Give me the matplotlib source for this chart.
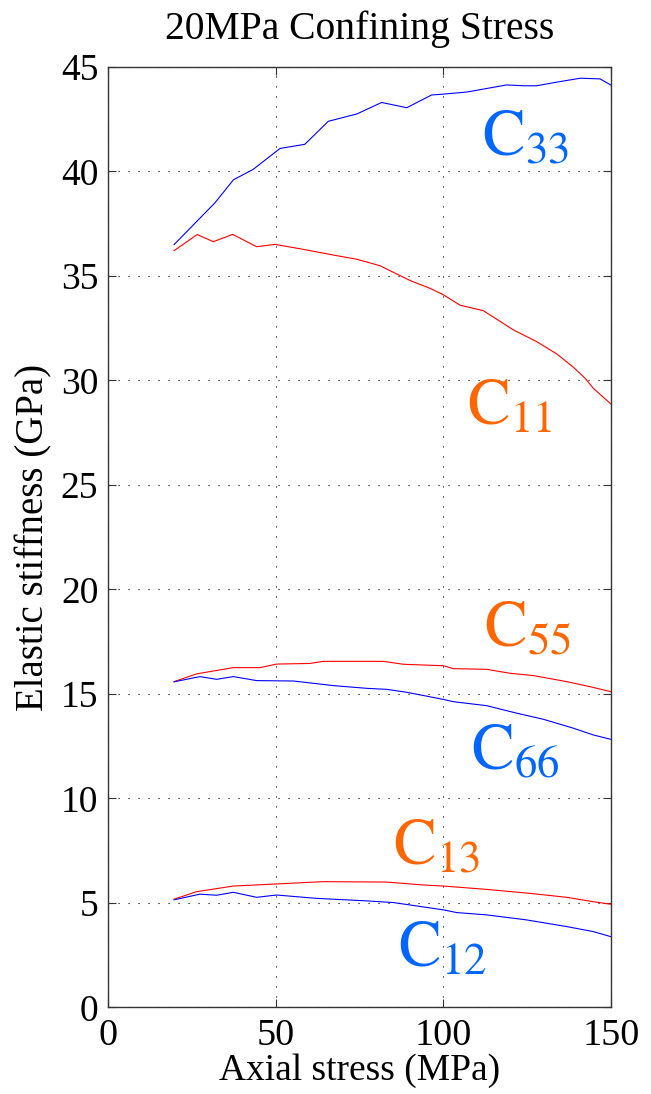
import matplotlib
matplotlib.use("Agg")
import matplotlib.pyplot as plt

# dati (MPa, GPa)
x_c33 = [19.7, 31.9, 37.4, 43.3, 51.3, 58.7, 65.7, 74.2, 81.6, 89.1, 96.5, 100, 107, 118.9, 123.9, 127.8, 134.8, 140.8, 146.7, 149.9]
c33 = [36.5, 38.5, 39.6, 40.1, 41.1, 41.3, 42.4, 42.75, 43.3, 43.05, 43.66, 43.7, 43.8, 44.14, 44.1, 44.1, 44.3, 44.46, 44.43, 44.14]

x_c11 = [19.7, 26.6, 31.4, 37.2, 44.3, 49.8, 57.3, 67.2, 74.2, 81.1, 90.1, 96.0, 100, 105, 111.9, 120.9, 127.8, 133.8, 138.8, 142.3, 144.7, 149.9]
c11 = [36.21, 36.98, 36.64, 36.99, 36.4, 36.51, 36.3, 36.0, 35.8, 35.49, 34.78, 34.41, 34.1, 33.6, 33.34, 32.42, 31.86, 31.27, 30.63, 30.1, 29.63, 28.88]

x_c55 = [19.7, 26.4, 30.4, 37.4, 45.3, 50.3, 60.2, 64.2, 82.1, 88.1, 100, 103, 112.9, 119.9, 126.8, 136.8, 143.7, 149.9]
c55 = [15.59, 15.96, 16.07, 16.26, 16.26, 16.43, 16.46, 16.56, 16.56, 16.42, 16.35, 16.21, 16.18, 15.99, 15.88, 15.59, 15.35, 15.11]

x_c66 = [19.7, 27.4, 32.4, 37.4, 44.3, 55.3, 67.2, 77.1, 83.1, 89.1, 100, 103, 112.9, 121.9, 129.8, 138.8, 144.7, 149.9]
c66 = [15.58, 15.83, 15.7, 15.83, 15.64, 15.62, 15.4, 15.27, 15.22, 15.08, 14.74, 14.63, 14.44, 14.08, 13.79, 13.36, 13.04, 12.83]

x_c13 = [19.7, 26.4, 37.4, 50.3, 64.2, 83.1, 94.0, 100, 112.9, 125.8, 136.8, 144.7, 149.9]
c13 = [5.18, 5.54, 5.81, 5.91, 6.02, 6.0, 5.86, 5.81, 5.65, 5.46, 5.27, 5.06, 4.94]

x_c12 = [19.7, 27.4, 32.4, 37.4, 44.3, 50.3, 62.2, 77.1, 85.1, 100, 104, 112.9, 124.8, 136.8, 144.7, 149.9]
c12 = [5.15, 5.42, 5.37, 5.51, 5.27, 5.38, 5.22, 5.10, 5.02, 4.67, 4.54, 4.43, 4.19, 3.87, 3.63, 3.39]

labels = ["33", "11", "55", "66", "13", "12"]
label_x = [124.4, 119.9, 125.3, 121.4, 98.1, 99.9]
label_y = [41.5, 28.6, 18.0, 12.1, 7.6, 2.65]
label_col = ["#0066ff", "#ff6600", "#ff6600", "#0066ff", "#ff6600", "#0066ff"]

xticks = [0, 50, 100, 150]
yticks = [0, 5, 10, 15, 20, 25, 30, 35, 40, 45]

plt.rcParams["font.family"] = ["Liberation Serif", "DejaVu Serif"]
plt.rcParams["mathtext.fontset"] = "stix"

fig = plt.figure(figsize=(6.51, 10.94), dpi=100)
ax = fig.add_axes([0.1659, 0.0791, 0.7727, 0.8597])

ax.plot(x_c33, c33, color="#0000ff", lw=0.8)
ax.plot(x_c11, c11, color="#ff0000", lw=0.8)
ax.plot(x_c55, c55, color="#ff0000", lw=0.8)
ax.plot(x_c66, c66, color="#0000ff", lw=0.8)
ax.plot(x_c13, c13, color="#ff0000", lw=0.8)
ax.plot(x_c12, c12, color="#0000ff", lw=0.8)

for lab, lx, ly, col in zip(labels, label_x, label_y, label_col):
    ax.text(lx, ly, r"$\mathrm{C}_{%s}$" % lab, color=col, fontsize=46,
            ha="center", va="center")

ax.set_xlim(0, 150)
ax.set_ylim(0, 45)
ax.set_xticks(xticks)
ax.set_yticks(yticks)
ax.grid(True, color="black", linestyle=(0, (1, 8)), linewidth=0.8)
ax.tick_params(direction="in", length=6, top=True, right=True, color="#333333")
ax.tick_params(axis="x", labelsize=27.5, pad=8)
ax.tick_params(axis="y", labelsize=27, pad=7)
for s in ax.spines.values():
    s.set_color("#333333")
    s.set_linewidth(1.0)

ax.set_xlabel("Axial stress (MPa)", fontsize=27, labelpad=0)
ax.set_ylabel("Elastic stiffness (GPa)", fontsize=28, labelpad=6)
ax.set_title("20MPa Confining Stress", fontsize=28.5, pad=20)

fig.savefig("out.png", dpi=100)
